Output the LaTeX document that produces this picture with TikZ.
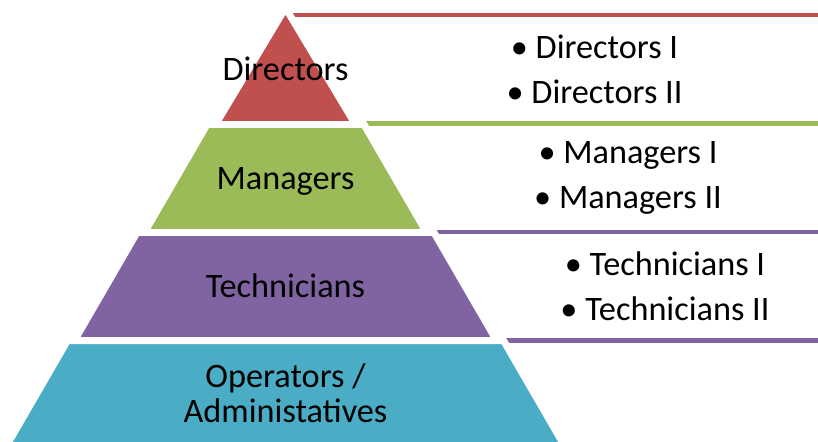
\documentclass[tikz,border=0pt]{standalone}
\usepackage{fontspec}
\setmainfont{Carlito}
\usepackage{xcolor}
\usepackage{tikz}

\definecolor{nivaa1}{HTML}{C0504D}
\definecolor{nivaa2}{HTML}{9BBB59}
\definecolor{nivaa3}{HTML}{8064A2}
\definecolor{nivaa4}{HTML}{4BACC6}

\begin{document}
\begin{tikzpicture}[x=0.02cm, y=-0.02cm,
	boks/.style={draw=#1, line width=2.55pt, minimum height=2.17cm, align=center, font=\fontsize{19.5}{25.5}\selectfont},
	lag/.style={fill=#1, draw=white, line width=3.97pt},
	tekst/.style={anchor=base, font=\fontsize{19.5}{20}\selectfont}]
								\useasboundingbox (0,0) rectangle (818,441);
								\clip (0,0) rectangle (818,441);
			
								%Boksene til hoyre
								\node[boks=nivaa1, minimum width=12.22cm] (dirboks) at (594.5,69) {\textbullet\ Directors I\\ \textbullet\ Directors II};
								\node[boks=nivaa2, minimum width=10.88cm] (manboks) at (628,177.75) {\textbullet\ Managers I\\ \textbullet\ Managers II};
								\node[boks=nivaa3, minimum width=9.4cm] (tekboks) at (665,286.25) {\textbullet\ Technicians I\\ \textbullet\ Technicians II};
			
								%Pyramiden
								\filldraw[lag=nivaa1] (285.5,7.8) -- (355.5,124.5) -- (215.5,124.5) -- cycle;
								\filldraw[lag=nivaa2] (207,124.5) -- (364,124.5) -- (426.6,232.5) -- (144.4,232.5) -- cycle;
								\filldraw[lag=nivaa3] (137,232.5) -- (434,232.5) -- (496.6,340.5) -- (74.4,340.5) -- cycle;
								\filldraw[lag=nivaa4] (67.5,340.5) -- (503.5,340.5) -- (578.5,470) -- (-7.5,470) -- cycle;
			
								%Tekst i pyramiden
								\node[tekst] (dir) at (285.5,80) {Directors};
								\node[tekst] (man) at (285.5,189) {Managers};
								\node[tekst] (tek) at (285.5,297) {Technicians};
								\node[tekst, anchor=center, align=center] (ope) at (285.5,393) {Operators /\\ Administatives};
								
							\end{tikzpicture}
\end{document}
